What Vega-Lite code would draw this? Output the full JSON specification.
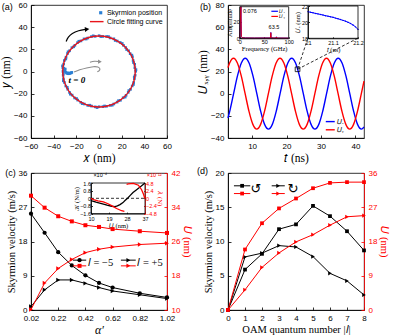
{
"$schema": "https://vega.github.io/schema/vega-lite/v6.json",
"background": "white",
"padding": {"left": 0, "top": 0, "right": 0, "bottom": 0},
"columns": 2,
"bounds": "flush",
"spacing": {"row": 35, "column": 61},
"datasets": {
"blue": [
{"x":32.4,"y":0.2},{"x":31.6,"y":3.5},{"x":31.5,"y":6.5},{"x":30.1,"y":9.9},{"x":29.5,"y":13.2},{"x":27.5,"y":16.1},{"x":26.1,"y":18.7},{"x":23.6,"y":21.6},{"x":21.6,"y":23.6},{"x":18.7,"y":26.2},{"x":16.1,"y":27.5},{"x":13.1,"y":29.5},{"x":9.8,"y":30.3},{"x":6.7,"y":31.6},{"x":3.3,"y":31.6},{"x":0.1,"y":32.3},{"x":-3.4,"y":31.7},{"x":-6.7,"y":31.5},{"x":-9.9,"y":30.2},{"x":-13.2,"y":29.4},{"x":-15.9,"y":27.6},{"x":-18.9,"y":26.1},{"x":-21.3,"y":23.6},{"x":-23.9,"y":21.5},{"x":-26.0,"y":18.7},{"x":-27.8,"y":16.2},{"x":-29.1,"y":12.9},{"x":-30.6,"y":9.9},{"x":-31.2,"y":6.7},{"x":-31.9,"y":3.3},{"x":-31.8,"y":0.1},{"x":-31.6,"y":-3.4},{"x":-31.4,"y":-6.6},{"x":-30.5,"y":-9.9},{"x":-29.3,"y":-13.1},{"x":-27.6,"y":-16.0},{"x":-26.0,"y":-18.9},{"x":-23.7,"y":-21.3},{"x":-21.5,"y":-23.9},{"x":-18.8,"y":-25.8},{"x":-16.1,"y":-27.8},{"x":-13.0,"y":-29.3},{"x":-9.9,"y":-30.6},{"x":-6.6,"y":-31.2},{"x":-3.3,"y":-31.9},{"x":0.1,"y":-31.8},{"x":3.4,"y":-31.7},{"x":6.6,"y":-31.4},{"x":9.9,"y":-30.6},{"x":13.1,"y":-29.3},{"x":16.0,"y":-27.6},{"x":18.9,"y":-26.0},{"x":21.3,"y":-23.7},{"x":23.9,"y":-21.5},{"x":25.8,"y":-18.8},{"x":27.8,"y":-16.1},{"x":29.3,"y":-13.0},{"x":30.6,"y":-9.9},{"x":31.2,"y":-6.6},{"x":31.9,"y":-3.3},
{"x":32.6,"y":1.7},{"x":30.4,"y":8.1},{"x":29.0,"y":14.8},{"x":24.4,"y":19.8},{"x":20.5,"y":25.3},{"x":14.3,"y":28.0},{"x":8.4,"y":31.5},{"x":1.6,"y":31.5},{"x":-5.1,"y":32.2},{"x":-11.3,"y":29.3},{"x":-17.8,"y":27.3},{"x":-22.3,"y":22.3},{"x":-27.3,"y":17.8},{"x":-29.3,"y":11.3},{"x":-32.2,"y":5.1},{"x":-31.5,"y":-1.6},{"x":-31.5,"y":-8.4},{"x":-28.0,"y":-14.3},{"x":-25.3,"y":-20.5},{"x":-19.8,"y":-24.4},{"x":-14.8,"y":-29.0},{"x":-8.1,"y":-30.4},{"x":-1.7,"y":-32.6},{"x":4.9,"y":-31.1},{"x":11.7,"y":-30.4},{"x":17.2,"y":-26.3},{"x":23.1,"y":-23.1},{"x":26.3,"y":-17.2},{"x":30.4,"y":-11.7},{"x":31.1,"y":-4.9},
{"x":-31.0,"y":3.0},{"x":-30.5,"y":1.5},{"x":-30.0,"y":0.3},{"x":-29.8,"y":2.2},{"x":-29.3,"y":-0.8},{"x":-28.5,"y":-1.5},{"x":-28.0,"y":-1.2},{"x":-27.5,"y":-2.0},{"x":-26.5,"y":-2.0},{"x":-26.0,"y":-1.3},{"x":-25.5,"y":-1.7},{"x":-24.5,"y":-1.2},{"x":-24.0,"y":-0.8}
],
"ring": [
{"i":0,"x":32,"y":0},{"i":1,"x":30.91,"y":8.28},{"i":2,"x":27.71,"y":16},{"i":3,"x":22.63,"y":22.63},{"i":4,"x":16,"y":27.71},{"i":5,"x":8.28,"y":30.91},{"i":6,"x":0,"y":32},{"i":7,"x":-8.28,"y":30.91},{"i":8,"x":-16,"y":27.71},{"i":9,"x":-22.63,"y":22.63},{"i":10,"x":-27.71,"y":16},{"i":11,"x":-30.91,"y":8.28},{"i":12,"x":-32,"y":0},{"i":13,"x":-30.91,"y":-8.28},{"i":14,"x":-27.71,"y":-16},{"i":15,"x":-22.63,"y":-22.63},{"i":16,"x":-16,"y":-27.71},{"i":17,"x":-8.28,"y":-30.91},{"i":18,"x":0,"y":-32},{"i":19,"x":8.28,"y":-30.91},{"i":20,"x":16,"y":-27.71},{"i":21,"x":22.63,"y":-22.63},{"i":22,"x":27.71,"y":-16},{"i":23,"x":30.91,"y":-8.28}
],
"bx": [
{"t":3,"u":-22.0},{"t":3.5,"u":-16},{"t":4.625,"u":0},{"t":5.75,"u":16},{"t":6.875,"u":27.7},{"t":8,"u":32},{"t":9.125,"u":27.7},{"t":10.25,"u":16},{"t":11.375,"u":0},{"t":12.5,"u":-16},{"t":13.625,"u":-27.7},{"t":14.75,"u":-32},{"t":15.875,"u":-27.7},{"t":17,"u":-16},{"t":18.125,"u":0},{"t":19.25,"u":16},{"t":20.375,"u":27.7},{"t":21.5,"u":32},{"t":22.625,"u":27.7},{"t":23.75,"u":16},{"t":24.875,"u":0},{"t":26,"u":-16},{"t":27.125,"u":-27.7},{"t":28.25,"u":-32},{"t":29.375,"u":-27.7},{"t":30.5,"u":-16},{"t":31.625,"u":0},{"t":32.75,"u":16},{"t":33.875,"u":27.7},{"t":35,"u":32},{"t":36.125,"u":27.7},{"t":37.25,"u":16},{"t":38.375,"u":0},{"t":39.5,"u":-16},{"t":40.625,"u":-27.7},{"t":41.75,"u":-32},{"t":42.5,"u":-30.1}
],
"by": [
{"t":3,"u":23.5},{"t":3.475,"u":27.7},{"t":4.6,"u":32},{"t":5.725,"u":27.7},{"t":6.85,"u":16},{"t":7.975,"u":0},{"t":9.1,"u":-16},{"t":10.225,"u":-27.7},{"t":11.35,"u":-32},{"t":12.475,"u":-27.7},{"t":13.6,"u":-16},{"t":14.725,"u":0},{"t":15.85,"u":16},{"t":16.975,"u":27.7},{"t":18.1,"u":32},{"t":19.225,"u":27.7},{"t":20.35,"u":16},{"t":21.475,"u":0},{"t":22.6,"u":-16},{"t":23.725,"u":-27.7},{"t":24.85,"u":-32},{"t":25.975,"u":-27.7},{"t":27.1,"u":-16},{"t":28.225,"u":0},{"t":29.35,"u":16},{"t":30.475,"u":27.7},{"t":31.6,"u":32},{"t":32.725,"u":27.7},{"t":33.85,"u":16},{"t":34.975,"u":0},{"t":36.1,"u":-16},{"t":37.225,"u":-27.7},{"t":38.35,"u":-32},{"t":39.475,"u":-27.7},{"t":40.6,"u":-16},{"t":41.725,"u":0},{"t":42.5,"u":11.3}
],
"c": [
{"a":0.02,"v1":25.3,"v2":0.9,"u1":36.7,"u2":10.1},
{"a":0.12,"v1":20.3,"v2":5.3,"u1":33.9,"u2":16.3},
{"a":0.22,"v1":15.2,"v2":7.9,"u1":31.9,"u2":19.7},
{"a":0.32,"v1":11.7,"v2":7.9,"u1":30.7,"u2":21.8},
{"a":0.42,"v1":9.1,"v2":7.0,"u1":29.8,"u2":23.4},
{"a":0.52,"v1":7.1,"v2":5.9,"u1":29.4,"u2":24.2},
{"a":0.62,"v1":5.9,"v2":5.0,"u1":28.9,"u2":24.7},
{"a":0.82,"v1":4.4,"v2":4.0,"u1":28.4,"u2":25.3},
{"a":1.02,"v1":3.3,"v2":3.0,"u1":28.0,"u2":25.6}
],
"d": [
{"l":0,"v1":0,"v2":0,"u1":0,"u2":0},
{"l":1,"v1":5.9,"v2":7.75,"u1":15.9,"u2":5.3},
{"l":2,"v1":8.2,"v2":8.3,"u1":22.8,"u2":11.2},
{"l":3,"v1":11.8,"v2":9.4,"u1":26.7,"u2":15.0},
{"l":4,"v1":12.5,"v2":9.2,"u1":29.3,"u2":17.9},
{"l":5,"v1":15.2,"v2":7.8,"u1":32.0,"u2":19.8},
{"l":6,"v1":13.7,"v2":5.35,"u1":33.4,"u2":22.3},
{"l":7,"v1":11.5,"v2":4.25,"u1":33.6,"u2":24.5},
{"l":8,"v1":8.7,"v2":2.2,"u1":33.6,"u2":24.8}
]
},
"concat": [
{
"width": 136, "height": 133,
"layer": [
{"data": {"name": "blue"}, "mark": {"type": "point", "shape": "square", "filled": true, "size": 7, "color": "#2a7fd4", "opacity": 1},
 "encoding": {
  "x": {"field": "x", "type": "quantitative", "scale": {"domain": [-60, 60], "nice": false, "zero": false}, "axis": {"orient": "bottom", "format": "d", "tickCount": 30, "labelOverlap": false, "values": [-60,-40,-20,0,20,40,60], "title": "𝑥 (nm)", "titleFontSize": 11.5}},
  "y": {"field": "y", "type": "quantitative", "scale": {"domain": [-60, 60], "nice": false, "zero": false}, "axis": {"orient": "left", "format": "d", "tickCount": 30, "labelOverlap": false, "values": [-60,-40,-20,0,20,40,60], "title": "𝑦 (nm)", "titleFontSize": 11.5}}}},
{"data": {"name": "ring"}, "mark": {"type": "line", "color": "#e8151b", "strokeWidth": 1.4, "interpolate": "cardinal-closed"},
 "encoding": {"x": {"field": "x", "type": "quantitative"}, "y": {"field": "y", "type": "quantitative"}, "order": {"field": "i"}}},
{"data": {"values": [{"i":0,"x":-29,"y":27},{"i":1,"x":-27,"y":31},{"i":2,"x":-23.5,"y":34.3},{"i":3,"x":-18,"y":36.8},{"i":4,"x":-12,"y":38}]},
 "mark": {"type": "line", "color": "#000", "strokeWidth": 1.2, "interpolate": "cardinal"},
 "encoding": {"x": {"field": "x", "type": "quantitative"}, "y": {"field": "y", "type": "quantitative"}, "order": {"field": "i"}}},
{"data": {"values": [{"x":-10.5,"y":38.1}]}, "mark": {"type": "point", "shape": "triangle-right", "filled": true, "size": 26, "color": "#000", "opacity": 1, "angle": -5},
 "encoding": {"x": {"field": "x", "type": "quantitative"}, "y": {"field": "y", "type": "quantitative"}}},
{"data": {"values": [{"g":1,"i":0,"x":-22,"y":-0.5},{"g":1,"i":1,"x":-17,"y":1.5},{"g":1,"i":2,"x":-11,"y":3.2},{"g":1,"i":3,"x":-5,"y":4.3},{"g":1,"i":4,"x":-1,"y":4},{"g":1,"i":5,"x":0.8,"y":2.3},{"g":1,"i":6,"x":0,"y":0.5},{"g":1,"i":7,"x":-1.5,"y":-0.3},{"g":2,"i":0,"x":-8,"y":8.3},{"g":2,"i":1,"x":-4,"y":9.2},{"g":2,"i":2,"x":-0.5,"y":9}]},
 "mark": {"type": "line", "color": "#8c8c8c", "strokeWidth": 1.1, "interpolate": "cardinal"},
 "encoding": {"x": {"field": "x", "type": "quantitative"}, "y": {"field": "y", "type": "quantitative"}, "detail": {"field": "g"}, "order": {"field": "i"}}},
{"data": {"values": [{"x":0.8,"y":8.9}]}, "mark": {"type": "point", "shape": "triangle-right", "filled": true, "size": 18, "color": "#8c8c8c", "opacity": 1},
 "encoding": {"x": {"field": "x", "type": "quantitative"}, "y": {"field": "y", "type": "quantitative"}}},
{"data": {"values": [{"x":-19.5,"y":-7.5,"label":"t = 0"}]}, "mark": {"type": "text", "font": "Liberation Serif", "fontStyle": "italic", "fontWeight": "bold", "fontSize": 9, "align": "center", "baseline": "middle"},
 "encoding": {"x": {"field": "x", "type": "quantitative"}, "y": {"field": "y", "type": "quantitative"}, "text": {"field": "label"}}},
{"data": {"values": [{"x":1.5,"y":53}]}, "mark": {"type": "point", "shape": "square", "filled": true, "size": 10, "color": "#2a7fd4", "opacity": 1},
 "encoding": {"x": {"field": "x", "type": "quantitative"}, "y": {"field": "y", "type": "quantitative"}}},
{"data": {"values": [{"x":-8,"x2":4,"y":45}]}, "mark": {"type": "rule", "color": "#e8151b", "strokeWidth": 1.4},
 "encoding": {"x": {"field": "x", "type": "quantitative"}, "x2": {"field": "x2"}, "y": {"field": "y", "type": "quantitative"}}},
{"data": {"values": [{"x":7,"y":53,"label":"Skyrmion position"},{"x":7,"y":45,"label":"Circle fitting curve"}]}, "mark": {"type": "text", "fontSize": 7, "align": "left", "baseline": "middle"},
 "encoding": {"x": {"field": "x", "type": "quantitative"}, "y": {"field": "y", "type": "quantitative"}, "text": {"field": "label"}}},
{"data": {"values": [{"x":-81,"y":58.2,"label":"(a)"}]}, "mark": {"type": "text", "fontSize": 9, "align": "center", "baseline": "middle"},
 "encoding": {"x": {"field": "x", "type": "quantitative"}, "y": {"field": "y", "type": "quantitative"}, "text": {"field": "label"}}}
]
},
{
"width": 136, "height": 133,
"layer": [
{"layer": [
 {"data": {"name": "bx"}, "mark": {"type": "line", "color": "#0000ff", "strokeWidth": 1.4, "interpolate": "monotone"},
  "encoding": {
   "x": {"field": "t", "type": "quantitative", "scale": {"domain": [3, 42.5], "nice": false, "zero": false}, "axis": {"orient": "bottom", "format": "d", "tickCount": 30, "labelOverlap": false, "values": [10,20,30,40], "title": "𝑡 (ns)", "titleFontSize": 11.5}},
   "y": {"field": "u", "type": "quantitative", "scale": {"domain": [-40, 80], "nice": false, "zero": false}, "axis": {"orient": "left", "format": "d", "tickCount": 30, "labelOverlap": false, "values": [-40,-20,0,20,40,60,80], "title": "𝑈ₓ,ᵧ (nm)", "titleFontSize": 11.5}}}},
 {"data": {"name": "by"}, "mark": {"type": "line", "color": "#ff0000", "strokeWidth": 1.4, "interpolate": "monotone"},
  "encoding": {"x": {"field": "t", "type": "quantitative"}, "y": {"field": "u", "type": "quantitative"}}},
 {"data": {"values": [{"g":1,"t":23.2,"u":22},{"g":1,"t":26.2,"u":50.2},{"g":2,"t":23.2,"u":22},{"g":2,"t":40.8,"u":50.2}]}, "mark": {"type": "line", "color": "#000", "strokeWidth": 0.8, "strokeDash": [3, 2]},
  "encoding": {"x": {"field": "t", "type": "quantitative"}, "y": {"field": "u", "type": "quantitative"}, "detail": {"field": "g"}}},
 {"data": {"values": [{"t":23.2,"u":22}]}, "mark": {"type": "point", "shape": "square", "filled": false, "size": 22, "color": "#000", "strokeWidth": 0.8, "opacity": 1},
  "encoding": {"x": {"field": "t", "type": "quantitative"}, "y": {"field": "u", "type": "quantitative"}}},
 {"data": {"values": [{"t":31.4,"t2":34,"u":-25.2}]}, "mark": {"type": "rule", "color": "#0000ff", "strokeWidth": 1.4},
  "encoding": {"x": {"field": "t", "type": "quantitative"}, "x2": {"field": "t2"}, "y": {"field": "u", "type": "quantitative"}}},
 {"data": {"values": [{"t":31.4,"t2":34,"u":-32.6}]}, "mark": {"type": "rule", "color": "#ff0000", "strokeWidth": 1.4},
  "encoding": {"x": {"field": "t", "type": "quantitative"}, "x2": {"field": "t2"}, "y": {"field": "u", "type": "quantitative"}}},
 {"data": {"values": [{"t":34.6,"u":-25.2,"label":"𝑈ₓ"},{"t":34.6,"u":-32.6,"label":"𝑈ᵧ"}]}, "mark": {"type": "text", "font": "Liberation Serif", "fontSize": 7, "align": "left", "baseline": "middle"},
  "encoding": {"x": {"field": "t", "type": "quantitative"}, "y": {"field": "u", "type": "quantitative"}, "text": {"field": "label"}}},
 {"data": {"values": [{"t":-3.5,"u":78.2,"label":"(b)"}]}, "mark": {"type": "text", "fontSize": 9, "align": "center", "baseline": "middle"},
  "encoding": {"x": {"field": "t", "type": "quantitative"}, "y": {"field": "u", "type": "quantitative"}, "text": {"field": "label"}}}
]},
{"layer": [
 {"data": {"values": [{"f":0,"a":0},{"f":2.5,"a":38},{"f":3.5,"a":2},{"f":5,"a":0.8},{"f":12,"a":0.4},{"f":30,"a":0.3},{"f":60,"a":0.4},{"f":62.8,"a":0.6},{"f":63.5,"a":7},{"f":64.2,"a":0.6},{"f":70,"a":0.3},{"f":74.5,"a":0.4},{"f":75,"a":1.8},{"f":75.5,"a":0.3},{"f":100,"a":0.2}]},
  "mark": {"type": "line", "color": "#0000ff", "strokeWidth": 1},
  "encoding": {
   "x": {"field": "f", "type": "quantitative", "scale": {"domain": [0, 100], "range": [11.7, 60.7], "nice": false, "zero": false}, "axis": {"orient": "bottom", "offset": -99.7, "format": "d", "tickCount": 30, "labelOverlap": false, "values": [0,50,100], "title": "Frequency (GHz)", "labelFontSize": 5.5, "titleFontSize": 6.5, "tickSize": -1.5, "labelPadding": 3, "titlePadding": 0.5}},
   "y": {"field": "a", "type": "quantitative", "scale": {"domain": [0, 38], "range": [33.3, 1.7], "nice": false, "zero": false}, "axis": {"orient": "left", "offset": -11.7, "format": "d", "tickCount": 30, "labelOverlap": false, "values": [0,20], "title": "Amplitude", "labelFontSize": 5.5, "titleFontSize": 6.5, "tickSize": -1.5, "labelPadding": 2, "titlePadding": 0.5}}}},
 {"data": {"values": [{"f":0,"a":0},{"f":2.5,"a":38},{"f":3.5,"a":1.8},{"f":5,"a":0.7},{"f":12,"a":0.35},{"f":30,"a":0.3},{"f":60,"a":0.35},{"f":62.8,"a":0.5},{"f":63.5,"a":6.8},{"f":64.2,"a":0.5},{"f":70,"a":0.3},{"f":74.5,"a":0.35},{"f":75,"a":1.6},{"f":75.5,"a":0.3},{"f":100,"a":0.2}]},
  "mark": {"type": "line", "color": "#ff0000", "strokeWidth": 1, "opacity": 0.85},
  "encoding": {"x": {"field": "f", "type": "quantitative"}, "y": {"field": "a", "type": "quantitative"}}},
 {"data": {"values": [{"f":0,"f2":100,"a":0,"a2":38}]}, "mark": {"type": "rect", "fillOpacity": 0, "stroke": "#000", "strokeWidth": 0.8},
  "encoding": {"x": {"field": "f", "type": "quantitative"}, "x2": {"field": "f2"}, "y": {"field": "a", "type": "quantitative"}, "y2": {"field": "a2"}}},
 {"data": {"values": [{"f":6.7,"a":32.8,"label":"0.076"},{"f":59,"a":14,"label":"63.5"}]}, "mark": {"type": "text", "fontSize": 5.5, "align": "left", "baseline": "middle"},
  "encoding": {"x": {"field": "f", "type": "quantitative"}, "y": {"field": "a", "type": "quantitative"}, "text": {"field": "label"}}},
 {"data": {"values": [{"f":64.6,"f2":78,"a":32.5}]}, "mark": {"type": "rule", "color": "#0000ff", "strokeWidth": 1.2},
  "encoding": {"x": {"field": "f", "type": "quantitative"}, "x2": {"field": "f2"}, "y": {"field": "a", "type": "quantitative"}}},
 {"data": {"values": [{"f":64.6,"f2":78,"a":26.3}]}, "mark": {"type": "rule", "color": "#ff0000", "strokeWidth": 1.2},
  "encoding": {"x": {"field": "f", "type": "quantitative"}, "x2": {"field": "f2"}, "y": {"field": "a", "type": "quantitative"}}},
 {"data": {"values": [{"f":81,"a":32.5,"label":"𝑈ₓ"},{"f":81,"a":26.3,"label":"𝑈ᵧ"}]}, "mark": {"type": "text", "font": "Liberation Serif", "fontSize": 5, "align": "left", "baseline": "middle"},
  "encoding": {"x": {"field": "f", "type": "quantitative"}, "y": {"field": "a", "type": "quantitative"}, "text": {"field": "label"}}}
]},
{"layer": [
 {"data": {"values": [{"t":21.0,"u":21.3},{"t":21.01,"u":21.22},{"t":21.02,"u":21.16},{"t":21.03,"u":21.08},{"t":21.04,"u":21.02},{"t":21.05,"u":20.95},{"t":21.06,"u":20.88},{"t":21.07,"u":20.8},{"t":21.08,"u":20.74},{"t":21.09,"u":20.66},{"t":21.1,"u":20.6},{"t":21.11,"u":20.5},{"t":21.12,"u":20.42},{"t":21.13,"u":20.32},{"t":21.14,"u":20.22},{"t":21.15,"u":20.12},{"t":21.16,"u":19.98},{"t":21.17,"u":19.84},{"t":21.18,"u":19.65},{"t":21.19,"u":19.42},{"t":21.2,"u":19.1}]},
  "mark": {"type": "line", "color": "#0000ff", "strokeWidth": 1, "point": {"filled": true, "size": 2, "color": "#0000ff"}},
  "encoding": {
   "x": {"field": "t", "type": "quantitative", "scale": {"domain": [21, 21.2], "range": [80, 130], "nice": false, "zero": false}, "axis": {"orient": "bottom", "offset": -99.7, "tickCount": 30, "labelOverlap": false, "values": [21,21.1,21.2], "format": ".1~f", "title": "𝑡 (ns)", "labelFontSize": 5.5, "titleFontSize": 6.5, "tickSize": -1.5, "labelPadding": 4, "titlePadding": 0.5}},
   "y": {"field": "u", "type": "quantitative", "scale": {"domain": [18, 22], "range": [33.3, 1], "nice": false, "zero": false}, "axis": {"orient": "left", "offset": -80, "format": "d", "tickCount": 30, "labelOverlap": false, "values": [18,20,22], "title": "𝑈ₓ (nm)", "labelFontSize": 5.5, "titleFontSize": 6.5, "tickSize": -1.5, "labelPadding": 2, "titlePadding": 0.5}}}},
 {"data": {"values": [{"t":21,"t2":21.2,"u":18,"u2":22}]}, "mark": {"type": "rect", "fillOpacity": 0, "stroke": "#000", "strokeWidth": 0.8},
  "encoding": {"x": {"field": "t", "type": "quantitative"}, "x2": {"field": "t2"}, "y": {"field": "u", "type": "quantitative"}, "y2": {"field": "u2"}}}
]}
],
"resolve": {"scale": {"x": "independent", "y": "independent"}, "axis": {"x": "independent", "y": "independent"}}
},
{
"width": 136, "height": 137,
"layer": [
{"layer": [
 {"data": {"name": "c"}, "mark": {"type": "line", "color": "#000", "strokeWidth": 1, "point": {"shape": "circle", "filled": true, "size": 18, "color": "#000"}},
  "encoding": {
   "x": {"field": "a", "type": "quantitative", "scale": {"domain": [0.02, 1.02], "nice": false, "zero": false}, "axis": {"orient": "bottom", "tickCount": 30, "labelOverlap": false, "values": [0.02,0.22,0.42,0.62,0.82,1.02], "format": ".2f", "title": "α′", "titleFontStyle": "italic", "titleFontSize": 12}},
   "y": {"field": "v1", "type": "quantitative", "scale": {"domain": [0, 36], "nice": false, "zero": false}, "axis": {"orient": "left", "format": "d", "tickCount": 30, "labelOverlap": false, "values": [0,9,18,27,36], "title": "Skyrmion velocity (m/s)", "titleFontSize": 10.5}}}},
 {"data": {"name": "c"}, "mark": {"type": "line", "color": "#000", "strokeWidth": 1, "point": {"shape": "triangle-right", "filled": true, "size": 20, "color": "#000"}},
  "encoding": {"x": {"field": "a", "type": "quantitative"}, "y": {"field": "v2", "type": "quantitative"}}},
 {"data": {"values": [{"a":0.329,"a2":0.426,"v":13.1},{"a":0.681,"a2":0.79,"v":13.1}]}, "mark": {"type": "rule", "color": "#000", "strokeWidth": 1},
  "encoding": {"x": {"field": "a", "type": "quantitative"}, "x2": {"field": "a2"}, "y": {"field": "v", "type": "quantitative"}}},
 {"data": {"values": [{"a":0.329,"a2":0.426,"v":11.6},{"a":0.681,"a2":0.79,"v":11.6}]}, "mark": {"type": "rule", "color": "#ff0000", "strokeWidth": 1},
  "encoding": {"x": {"field": "a", "type": "quantitative"}, "x2": {"field": "a2"}, "y": {"field": "v", "type": "quantitative"}}},
 {"data": {"values": [{"a":0.377,"v":13.1}]}, "mark": {"type": "point", "shape": "circle", "filled": true, "size": 18, "color": "#000", "opacity": 1},
  "encoding": {"x": {"field": "a", "type": "quantitative"}, "y": {"field": "v", "type": "quantitative"}}},
 {"data": {"values": [{"a":0.736,"v":13.1}]}, "mark": {"type": "point", "shape": "triangle-right", "filled": true, "size": 20, "color": "#000", "opacity": 1},
  "encoding": {"x": {"field": "a", "type": "quantitative"}, "y": {"field": "v", "type": "quantitative"}}},
 {"data": {"values": [{"a":0.377,"v":11.6}]}, "mark": {"type": "point", "shape": "square", "filled": true, "size": 16, "color": "#ff0000", "opacity": 1},
  "encoding": {"x": {"field": "a", "type": "quantitative"}, "y": {"field": "v", "type": "quantitative"}}},
 {"data": {"values": [{"a":0.736,"v":11.6}]}, "mark": {"type": "point", "shape": "triangle-right", "filled": true, "size": 20, "color": "#ff0000", "opacity": 1},
  "encoding": {"x": {"field": "a", "type": "quantitative"}, "y": {"field": "v", "type": "quantitative"}}},
 {"data": {"values": [{"a":0.438,"v":12.35,"label":"𝑙 = −5"},{"a":0.802,"v":12.35,"label":"𝑙 = +5"}]}, "mark": {"type": "text", "font": "Liberation Serif", "fontSize": 10.5, "align": "left", "baseline": "middle"},
  "encoding": {"x": {"field": "a", "type": "quantitative"}, "y": {"field": "v", "type": "quantitative"}, "text": {"field": "label"}}},
 {"data": {"values": [{"a":-0.131,"v":35.9,"label":"(c)"}]}, "mark": {"type": "text", "fontSize": 9, "align": "center", "baseline": "middle"},
  "encoding": {"x": {"field": "a", "type": "quantitative"}, "y": {"field": "v", "type": "quantitative"}, "text": {"field": "label"}}}
]},
{"layer": [
 {"data": {"name": "c"}, "mark": {"type": "line", "color": "#ff0000", "strokeWidth": 1, "point": {"shape": "square", "filled": true, "size": 16, "color": "#ff0000"}},
  "encoding": {
   "x": {"field": "a", "type": "quantitative", "scale": {"domain": [0.02, 1.02], "nice": false, "zero": false}, "axis": null},
   "y": {"field": "u1", "type": "quantitative", "scale": {"domain": [10, 42], "nice": false, "zero": false}, "axis": {"orient": "right", "format": "d", "tickCount": 30, "labelOverlap": false, "values": [10,18,26,34,42], "title": "𝑈 (nm)", "titleFontSize": 10.5, "titleColor": "#ff0000", "labelColor": "#ff0000", "tickColor": "#ff0000", "domainColor": "#ff0000"}}}},
 {"data": {"name": "c"}, "mark": {"type": "line", "color": "#ff0000", "strokeWidth": 1, "point": {"shape": "triangle-right", "filled": true, "size": 20, "color": "#ff0000"}},
  "encoding": {"x": {"field": "a", "type": "quantitative", "axis": null}, "y": {"field": "u2", "type": "quantitative"}}}
]},
{"layer": [
 {"data": {"values": [{"u":10,"k":-0.24},{"u":12.5,"k":-0.4},{"u":15.3,"k":-0.56},{"u":18,"k":-0.72},{"u":20.3,"k":-0.83},{"u":22,"k":-0.87},{"u":23.2,"k":-0.8},{"u":24.5,"k":-0.66},{"u":26,"k":-0.45},{"u":27,"k":-0.24},{"u":28.3,"k":0},{"u":29.5,"k":0.28},{"u":31,"k":0.6},{"u":32.8,"k":0.9},{"u":35,"k":1.25},{"u":37,"k":1.6}]},
  "mark": {"type": "line", "color": "#000", "strokeWidth": 1.3},
  "encoding": {
   "x": {"field": "u", "type": "quantitative", "scale": {"domain": [10, 37], "range": [60, 114], "nice": false, "zero": false}, "axis": {"orient": "bottom", "offset": -96.4, "format": "d", "tickCount": 30, "labelOverlap": false, "values": [10,19,28,37], "title": "𝑈 (nm)", "labelFontSize": 5.5, "titleFontSize": 6.5, "tickSize": -1.5, "labelPadding": 4, "titlePadding": 0.5}},
   "y": {"field": "k", "type": "quantitative", "scale": {"domain": [-1.6, 1.6], "range": [40.6, 10], "nice": false, "zero": false}, "axis": {"orient": "left", "offset": -60, "tickCount": 30, "labelOverlap": false, "values": [-1.6,-0.8,0,0.8,1.6], "format": "~g", "title": "𝒦 (N/m)", "labelFontSize": 5.5, "titleFontSize": 6.5, "tickSize": -1.5, "labelPadding": 2, "titlePadding": 0.5}}}},
 {"data": {"values": [{"u":10,"u2":37,"k":0}]}, "mark": {"type": "rule", "color": "#000", "strokeWidth": 0.8, "strokeDash": [3, 2]},
  "encoding": {"x": {"field": "u", "type": "quantitative"}, "x2": {"field": "u2"}, "y": {"field": "k", "type": "quantitative"}}},
 {"data": {"values": [{"u":10,"u2":37,"k":-1.6,"k2":1.6}]}, "mark": {"type": "rect", "fillOpacity": 0, "stroke": "#000", "strokeWidth": 0.8},
  "encoding": {"x": {"field": "u", "type": "quantitative"}, "x2": {"field": "u2"}, "y": {"field": "k", "type": "quantitative"}, "y2": {"field": "k2"}}},
 {"data": {"values": [{"u":11.2,"k":2.48,"label":"×10⁻⁴"}]}, "mark": {"type": "text", "fontSize": 5.5, "align": "left", "baseline": "middle", "color": "#000"},
  "encoding": {"x": {"field": "u", "type": "quantitative"}, "y": {"field": "k", "type": "quantitative"}, "text": {"field": "label"}}},
 {"data": {"values": [{"u":37.85,"k":2.48,"label":"×10⁻¹²"}]}, "mark": {"type": "text", "fontSize": 5.5, "align": "left", "baseline": "middle", "color": "#ff0000"},
  "encoding": {"x": {"field": "u", "type": "quantitative"}, "y": {"field": "k", "type": "quantitative"}, "text": {"field": "label"}}}
]},
{"layer": [
 {"data": {"values": [{"s":1,"u":10,"lam":0},{"s":1,"u":11.2,"lam":-0.4},{"s":1,"u":13.5,"lam":-0.8},{"s":1,"u":16.2,"lam":-1.15},{"s":1,"u":18.5,"lam":-1.7},{"s":1,"u":20.3,"lam":-2.3},{"s":1,"u":22.8,"lam":-3.2},{"s":1,"u":25.3,"lam":-3.9},{"s":1,"u":26.7,"lam":-4.1},{"s":2,"u":27.8,"lam":4.4},{"s":2,"u":28.7,"lam":4.5},{"s":2,"u":31.2,"lam":4.7},{"s":2,"u":33.7,"lam":4.1},{"s":2,"u":35.3,"lam":2.7},{"s":2,"u":36.3,"lam":1.2},{"s":2,"u":36.9,"lam":0}]},
  "mark": {"type": "line", "color": "#ff0000", "strokeWidth": 1.3},
  "encoding": {
   "x": {"field": "u", "type": "quantitative", "scale": {"domain": [10, 37], "range": [60, 114], "nice": false, "zero": false}, "axis": null},
   "y": {"field": "lam", "type": "quantitative", "scale": {"domain": [-4.8, 4.8], "range": [40.6, 10], "nice": false, "zero": false}, "axis": {"orient": "right", "offset": -22, "tickCount": 30, "labelOverlap": false, "values": [-4.8,-2.4,0,2.4,4.8], "format": "~g", "title": "𝜆 (N)", "labelFontSize": 5.5, "titleFontSize": 6.5, "tickSize": -1.5, "labelPadding": 2, "titlePadding": 0.5, "titleColor": "#ff0000", "labelColor": "#ff0000", "tickColor": "#ff0000", "domainColor": "#ff0000"}},
   "detail": {"field": "s"}}}
]}
],
"resolve": {"scale": {"x": "independent", "y": "independent"}, "axis": {"x": "independent", "y": "independent"}}
},
{
"width": 136, "height": 137,
"layer": [
{"layer": [
 {"data": {"name": "d"}, "mark": {"type": "line", "color": "#000", "strokeWidth": 1, "point": {"shape": "square", "filled": true, "size": 14, "color": "#000"}},
  "encoding": {
   "x": {"field": "l", "type": "quantitative", "scale": {"domain": [0, 8], "nice": false, "zero": false}, "axis": {"orient": "bottom", "format": "d", "tickCount": 30, "labelOverlap": false, "values": [0,1,2,3,4,5,6,7,8], "title": "OAM quantum number |𝑙|", "titleFontSize": 10.5}},
   "y": {"field": "v1", "type": "quantitative", "scale": {"domain": [0, 20], "nice": false, "zero": false}, "axis": {"orient": "left", "format": "d", "tickCount": 30, "labelOverlap": false, "values": [0,5,10,15,20], "title": "Skyrmion velocity (m/s)", "titleFontSize": 10.5}}}},
 {"data": {"name": "d"}, "mark": {"type": "line", "color": "#000", "strokeWidth": 1, "point": {"shape": "triangle-right", "filled": true, "size": 18, "color": "#000"}},
  "encoding": {"x": {"field": "l", "type": "quantitative"}, "y": {"field": "v2", "type": "quantitative"}}},
 {"data": {"values": [{"l":0.35,"l2":1.31,"v":18.13},{"l":2.57,"l2":3.34,"v":18.13}]}, "mark": {"type": "rule", "color": "#000", "strokeWidth": 1},
  "encoding": {"x": {"field": "l", "type": "quantitative"}, "x2": {"field": "l2"}, "y": {"field": "v", "type": "quantitative"}}},
 {"data": {"values": [{"l":0.35,"l2":1.31,"v":17.0},{"l":2.57,"l2":3.34,"v":17.0}]}, "mark": {"type": "rule", "color": "#ff0000", "strokeWidth": 1},
  "encoding": {"x": {"field": "l", "type": "quantitative"}, "x2": {"field": "l2"}, "y": {"field": "v", "type": "quantitative"}}},
 {"data": {"values": [{"l":0.83,"v":18.13}]}, "mark": {"type": "point", "shape": "square", "filled": true, "size": 14, "color": "#000", "opacity": 1},
  "encoding": {"x": {"field": "l", "type": "quantitative"}, "y": {"field": "v", "type": "quantitative"}}},
 {"data": {"values": [{"l":2.95,"v":18.13}]}, "mark": {"type": "point", "shape": "triangle-right", "filled": true, "size": 18, "color": "#000", "opacity": 1},
  "encoding": {"x": {"field": "l", "type": "quantitative"}, "y": {"field": "v", "type": "quantitative"}}},
 {"data": {"values": [{"l":0.83,"v":17.0}]}, "mark": {"type": "point", "shape": "square", "filled": true, "size": 14, "color": "#ff0000", "opacity": 1},
  "encoding": {"x": {"field": "l", "type": "quantitative"}, "y": {"field": "v", "type": "quantitative"}}},
 {"data": {"values": [{"l":2.95,"v":17.0}]}, "mark": {"type": "point", "shape": "triangle-right", "filled": true, "size": 18, "color": "#ff0000", "opacity": 1},
  "encoding": {"x": {"field": "l", "type": "quantitative"}, "y": {"field": "v", "type": "quantitative"}}},
 {"data": {"values": [{"l":1.65,"v":17.6,"label":"↺"},{"l":3.82,"v":17.6,"label":"↻"}]}, "mark": {"type": "text", "font": "DejaVu Sans", "fontSize": 13, "align": "center", "baseline": "middle"},
  "encoding": {"x": {"field": "l", "type": "quantitative"}, "y": {"field": "v", "type": "quantitative"}, "text": {"field": "label"}}},
 {"data": {"values": [{"l":-1.5,"v":20.3,"label":"(d)"}]}, "mark": {"type": "text", "fontSize": 9, "align": "center", "baseline": "middle"},
  "encoding": {"x": {"field": "l", "type": "quantitative"}, "y": {"field": "v", "type": "quantitative"}, "text": {"field": "label"}}}
]},
{"layer": [
 {"data": {"name": "d"}, "mark": {"type": "line", "color": "#ff0000", "strokeWidth": 1, "point": {"shape": "square", "filled": true, "size": 14, "color": "#ff0000"}},
  "encoding": {
   "x": {"field": "l", "type": "quantitative", "scale": {"domain": [0, 8], "nice": false, "zero": false}, "axis": null},
   "y": {"field": "u1", "type": "quantitative", "scale": {"domain": [0, 36], "nice": false, "zero": false}, "axis": {"orient": "right", "format": "d", "tickCount": 30, "labelOverlap": false, "values": [0,9,18,27,36], "title": "𝑈 (nm)", "titleFontSize": 10.5, "titleColor": "#ff0000", "labelColor": "#ff0000", "tickColor": "#ff0000", "domainColor": "#ff0000"}}}},
 {"data": {"name": "d"}, "mark": {"type": "line", "color": "#ff0000", "strokeWidth": 1, "point": {"shape": "triangle-right", "filled": true, "size": 18, "color": "#ff0000"}},
  "encoding": {"x": {"field": "l", "type": "quantitative", "axis": null}, "y": {"field": "u2", "type": "quantitative"}}}
]}
],
"resolve": {"scale": {"x": "independent", "y": "independent"}, "axis": {"x": "independent", "y": "independent"}}
}
],
"config": {
 "view": {"stroke": "#000", "strokeWidth": 0.8},
 "axis": {"grid": false, "domainColor": "#000", "domainWidth": 0.8, "tickColor": "#000", "tickWidth": 0.8, "tickSize": -3, "labelPadding": 7, "labelFont": "Liberation Sans", "labelFontSize": 8, "labelColor": "#000", "labelFlush": false, "labelOverlap": false, "titleFont": "Liberation Serif", "titleFontSize": 11, "titleFontWeight": "normal", "titleColor": "#000", "titlePadding": 2},
 "text": {"font": "Liberation Sans", "color": "#000"}
}
}
